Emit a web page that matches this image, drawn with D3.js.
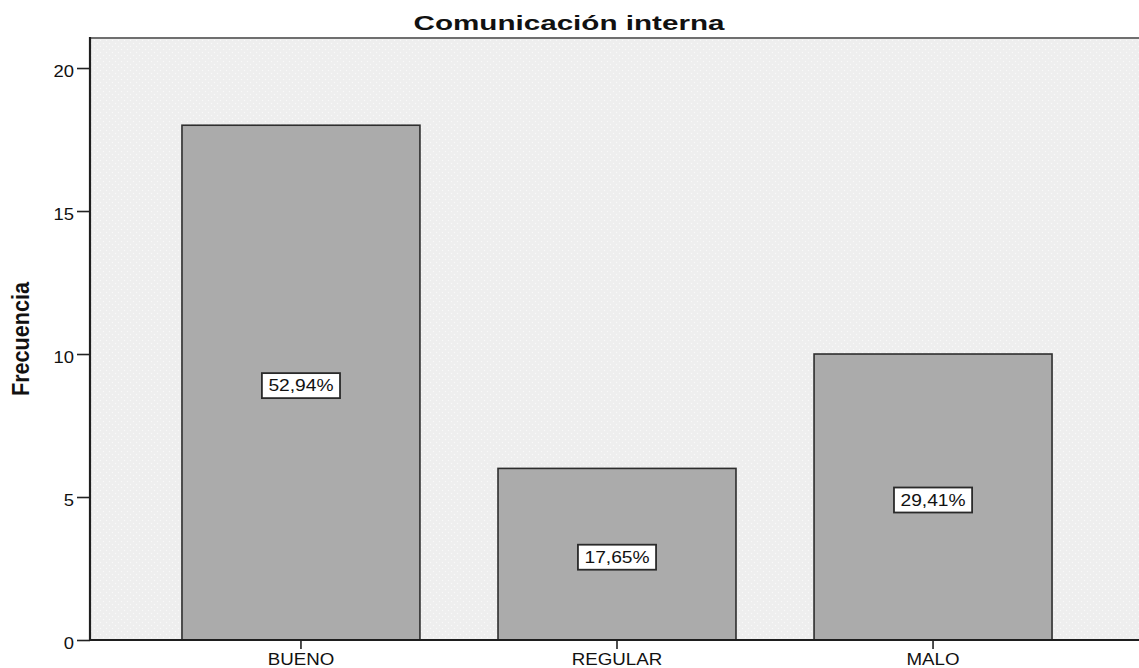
<!DOCTYPE html>
<html>
<head>
<meta charset="utf-8">
<script src="https://cdn.jsdelivr.net/npm/d3@7/dist/d3.min.js"></script>
<style>
  html, body { margin: 0; padding: 0; background: #ffffff; }
  svg { display: block; }
  text { font-family: "Liberation Sans", Arial, sans-serif; fill: #111; }
</style>
</head>
<body>
<svg id="chart" width="1139" height="668"></svg>
<script>
// Frecuencias por categoría de comunicación interna
const categories = ["BUENO", "REGULAR", "MALO"];
const counts = [18, 6, 10];
const yTicks = [0, 5, 10, 15, 20];
const title = "Comunicación interna";
const yTitle = "Frecuencia";

const W = 1139, H = 668;
const plot = { left: 90, top: 38, right: 1144, bottom: 640 };
const stretch = 1.2; // glyphs are drawn slightly wide

const svg = d3.select("#chart");

// widen a text element horizontally, keeping its anchor
function widen(sel, k) {
  sel.each(function () {
    const n = this.getComputedTextLength();
    d3.select(this).attr("textLength", n * k).attr("lengthAdjust", "spacingAndGlyphs");
  });
}

const x = d3.scaleBand()
  .domain(categories)
  .range([plot.left, plot.right])
  .paddingInner(0.247)
  .paddingOuter(0.291);

const y = d3.scaleLinear()
  .domain([0, 21.05])
  .range([plot.bottom, plot.top]);

// background with a fine dot texture
const defs = svg.append("defs");
const pat = defs.append("pattern")
  .attr("id", "dots").attr("width", 6).attr("height", 6)
  .attr("patternUnits", "userSpaceOnUse");
pat.append("rect").attr("width", 6).attr("height", 6).attr("fill", "#eeeeee");
pat.append("circle").attr("cx", 1.5).attr("cy", 1.5).attr("r", 0.7).attr("fill", "#f9f9f9");
pat.append("circle").attr("cx", 4.5).attr("cy", 4.5).attr("r", 0.7).attr("fill", "#f9f9f9");

svg.append("rect")
  .attr("x", plot.left).attr("y", plot.top)
  .attr("width", plot.right - plot.left).attr("height", plot.bottom - plot.top)
  .attr("fill", "url(#dots)");

// top frame line
svg.append("line")
  .attr("x1", plot.left).attr("x2", plot.right)
  .attr("y1", plot.top).attr("y2", plot.top)
  .attr("stroke", "#6f6f6f").attr("stroke-width", 2);

// bars
svg.append("g").selectAll("rect")
  .data(categories)
  .join("rect")
  .attr("x", d => x(d))
  .attr("y", (d, i) => y(counts[i]))
  .attr("width", x.bandwidth())
  .attr("height", (d, i) => y(0) - y(counts[i]))
  .attr("fill", "#ababab")
  .attr("stroke", "#2e2e2e")
  .attr("stroke-width", 1.6);

// percentage labels in boxes
const total = d3.sum(counts);
const fmtPct = v => (v * 100).toFixed(2).replace(".", ",") + "%";
const labels = svg.append("g").selectAll("g")
  .data(categories)
  .join("g")
  .attr("transform", (d, i) => `translate(${x(d) + x.bandwidth() / 2},${y(counts[i] / 2) + 3})`);

labels.append("text")
  .attr("text-anchor", "middle")
  .attr("dy", "0.36em")
  .style("font-size", "16px")
  .text((d, i) => fmtPct(counts[i] / total))
  .call(widen, stretch);

labels.each(function () {
  const g = d3.select(this);
  const t = g.select("text");
  const w = +t.attr("textLength");
  g.insert("rect", "text")
    .attr("x", -w / 2 - 6.5).attr("y", -12.5)
    .attr("width", w + 13).attr("height", 25)
    .attr("fill", "#ffffff")
    .attr("stroke", "#2a2a2a")
    .attr("stroke-width", 1.8);
});

// y axis
const yAxis = svg.append("g")
  .attr("transform", `translate(${plot.left},0)`)
  .call(d3.axisLeft(y).tickValues(yTicks).tickSize(13).tickPadding(3).tickFormat(d3.format("d")));
yAxis.select(".domain").remove();
yAxis.selectAll(".tick line").attr("stroke", "#222").attr("stroke-width", 1.6);
yAxis.selectAll(".tick text")
  .style("font-size", "16px").style("font-family", "\"Liberation Sans\", Arial, sans-serif")
  .attr("fill", "#222").attr("dy", "0.5em")
  .call(widen, 1.15);
svg.append("line")
  .attr("x1", plot.left).attr("x2", plot.left)
  .attr("y1", plot.top - 1).attr("y2", plot.bottom + 1)
  .attr("stroke", "#1e1e1e").attr("stroke-width", 2.2);

// x axis
const xAxis = svg.append("g")
  .attr("transform", `translate(0,${plot.bottom})`)
  .call(d3.axisBottom(x).tickSize(9).tickPadding(5));
xAxis.select(".domain").remove();
xAxis.selectAll(".tick line").attr("stroke", "#222").attr("stroke-width", 1.6);
xAxis.selectAll(".tick text")
  .style("font-size", "16px").style("font-family", "\"Liberation Sans\", Arial, sans-serif")
  .attr("fill", "#111").attr("dy", "0.68em")
  .call(widen, 1.17);
svg.append("line")
  .attr("x1", plot.left - 1).attr("x2", plot.right)
  .attr("y1", plot.bottom).attr("y2", plot.bottom)
  .attr("stroke", "#1e1e1e").attr("stroke-width", 2.2);

// title
svg.append("text")
  .attr("x", 569).attr("y", 30)
  .attr("text-anchor", "middle")
  .style("font-size", "21px").style("font-weight", "bold")
  .text(title)
  .call(widen, 1.41);

// y axis title, glyphs drawn tall and narrow
svg.append("text")
  .attr("transform", `translate(29,${(plot.top + plot.bottom) / 2}) rotate(-90) scale(1,1.3)`)
  .attr("text-anchor", "middle")
  .style("font-size", "18px").style("font-weight", "bold")
  .text(yTitle)
  .call(widen, 1.2);
</script>
</body>
</html>
